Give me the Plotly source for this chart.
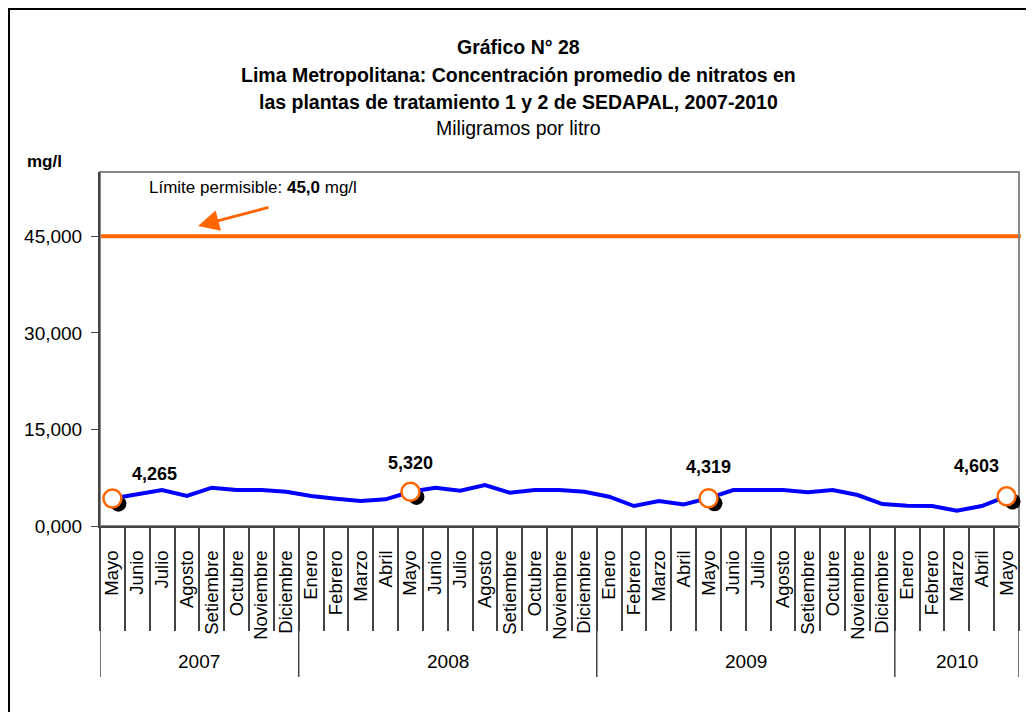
import plotly.graph_objects as go

# ─── data ─────────────────────────────────────────────────────
meses = ["Mayo", "Junio", "Julio", "Agosto", "Setiembre", "Octubre", "Noviembre", "Diciembre",
         "Enero", "Febrero", "Marzo", "Abril", "Mayo", "Junio", "Julio", "Agosto",
         "Setiembre", "Octubre", "Noviembre", "Diciembre",
         "Enero", "Febrero", "Marzo", "Abril", "Mayo", "Junio", "Julio", "Agosto",
         "Setiembre", "Octubre", "Noviembre", "Diciembre",
         "Enero", "Febrero", "Marzo", "Abril", "Mayo"]
anios = ["2007", "2008", "2009", "2010"]
meses_por_anio = [8, 12, 12, 5]

# nitratos, mg/l
nitratos = [4.265, 4.92, 5.59, 4.66, 5.95, 5.59, 5.59, 5.33,
            4.66, 4.24, 3.88, 4.14, 5.320, 5.95, 5.48, 6.36, 5.17, 5.59, 5.59, 5.33,
            4.55, 3.10, 3.88, 3.36, 4.319, 5.59, 5.59, 5.59, 5.23, 5.59, 4.81, 3.41,
            3.15, 3.10, 2.37, 3.10, 4.603]
limite = 45.0
y_ticks = [0, 15, 30, 45]

# ─── helpers ──────────────────────────────────────────────────
x = list(range(len(meses)))
mayo_idx = [i for i, m in enumerate(meses) if m == "Mayo"]
mayo_x = [x[i] for i in mayo_idx]
mayo_y = [nitratos[i] for i in mayo_idx]

SANS = "Liberation Sans, Arial"
ORANGE = "#FF6600"

# page has an 8px body margin; page-pixel geometry of the plot area
OFF = 8
FW, FH = 1034 - OFF, 712 - OFF
L, R, T, B = 100, 1019, 172, 526
W, H = R - L, B - T


def py(px):  # page pixel y -> paper y
    return (B - px) / H


def px_x(px):  # page pixel x -> paper x
    return (px - L) / W


fig = go.Figure()

# shadow of highlighted points
fig.add_trace(go.Scatter(
    x=[v + 0.24 for v in mayo_x], y=[v - 0.8 for v in mayo_y],
    mode="markers", marker=dict(size=16, color="black"),
    hoverinfo="skip", showlegend=False, cliponaxis=False))

fig.add_trace(go.Scatter(
    x=x, y=nitratos, mode="lines",
    line=dict(color="#0000FF", width=4),
    showlegend=False, cliponaxis=False))

fig.add_trace(go.Scatter(
    x=mayo_x, y=mayo_y, mode="markers",
    marker=dict(size=18, color="white", line=dict(color=ORANGE, width=2.5)),
    showlegend=False, cliponaxis=False))

shapes = []
# limit line
shapes.append(dict(type="line", xref="paper", yref="y", x0=0, x1=1.002, y0=limite, y1=limite,
                   line=dict(color=ORANGE, width=4), layer="below"))
# plot-area frame (grey)
shapes.append(dict(type="rect", xref="paper", yref="paper", x0=0, x1=1, y0=0, y1=1,
                   line=dict(color="#888888", width=2), layer="below"))
# outer frame
shapes.append(dict(type="rect", xref="paper", yref="paper",
                   x0=px_x(9), x1=px_x(1045), y0=py(720), y1=py(9),
                   line=dict(color="black", width=2)))
# year separators
bound = -0.5
bounds = [bound]
for n in meses_por_anio:
    bound += n
    bounds.append(bound)
for b in bounds:
    shapes.append(dict(type="line", xref="x", yref="paper", x0=b, x1=b, y0=0, y1=py(677),
                       line=dict(color="#444444", width=1.5)))

annotations = []
# year labels
for i, a in enumerate(anios):
    annotations.append(dict(x=(bounds[i] + bounds[i + 1]) / 2, y=py(661), xref="x", yref="paper",
                            yanchor="middle", text=a, showarrow=False,
                            font=dict(size=19, color="black", family=SANS)))

# value labels for May points
shifts = [(42, 25), (0, 29), (0, 31), (-30, 30)]
for (xv, yv), (dx, dy) in zip(zip(mayo_x, mayo_y), shifts):
    annotations.append(dict(x=xv, y=yv, xref="x", yref="y", text="<b>%s</b>" % f"{yv:.3f}".replace(".", ","),
                            showarrow=False, xshift=dx, yshift=dy, yanchor="middle",
                            font=dict(size=18, color="black", family=SANS)))

# titles
titles = [("<b>Gráfico N° 28</b>", 47),
          ("<b>Lima Metropolitana: Concentración promedio de nitratos en</b>", 75),
          ("<b>las plantas de tratamiento 1 y 2 de SEDAPAL, 2007-2010</b>", 102),
          ("Miligramos por litro", 128)]
for t, ypx in titles:
    annotations.append(dict(x=px_x(518), y=py(ypx), xref="paper", yref="paper", text=t,
                            xanchor="center", yanchor="middle", showarrow=False,
                            font=dict(size=19.5, color="black", family=SANS)))

annotations.append(dict(x=px_x(25), y=py(162), xref="paper", yref="paper", xanchor="left",
                        yanchor="middle", text="<b>mg/l</b>", showarrow=False,
                        font=dict(size=17, color="black", family=SANS)))

# limit annotation
annotations.append(dict(x=px_x(147), y=py(187), xref="paper", yref="paper", xanchor="left",
                        yanchor="middle", text="Límite permisible: <b>45,0</b> mg/l", showarrow=False,
                        font=dict(size=17, color="black", family=SANS)))
annotations.append(dict(x=px_x(198), y=py(226), xref="paper", yref="paper",
                        ax=72, ay=-19, text="", showarrow=True,
                        arrowhead=2, arrowsize=1.4, arrowwidth=3, arrowcolor=ORANGE))

fig.update_layout(
    width=FW, height=FH,
    margin=dict(l=L - OFF, r=FW - (R - OFF), t=T - OFF, b=FH - (B - OFF)),
    paper_bgcolor="white", plot_bgcolor="white",
    separators=",.",
    font=dict(family=SANS, color="black"),
    shapes=shapes, annotations=annotations,
    showlegend=False,
)

fig.update_xaxes(
    range=[-0.5, len(meses) - 0.5],
    tickmode="array", tickvals=x, ticktext=meses, tickangle=-90,
    ticks="", ticklabelstandoff=15,
    tickfont=dict(size=18.5, color="black", family=SANS),
    showgrid=False, zeroline=False,
    showline=True, linecolor="#444444", linewidth=2,
    minor=dict(tick0=-0.5, dtick=1, ticks="outside", ticklen=103, tickcolor="#444444", tickwidth=1.5),
)

fig.update_yaxes(
    range=[0, 55],
    tickmode="array", tickvals=y_ticks, tickformat=".3f",
    ticks="outside", ticklen=7, tickcolor="#444444", ticklabelstandoff=5,
    tickfont=dict(size=19, color="black", family=SANS),
    showgrid=False, zeroline=False,
    showline=True, linecolor="#444444", linewidth=2,
)

fig.write_html("out.html")
